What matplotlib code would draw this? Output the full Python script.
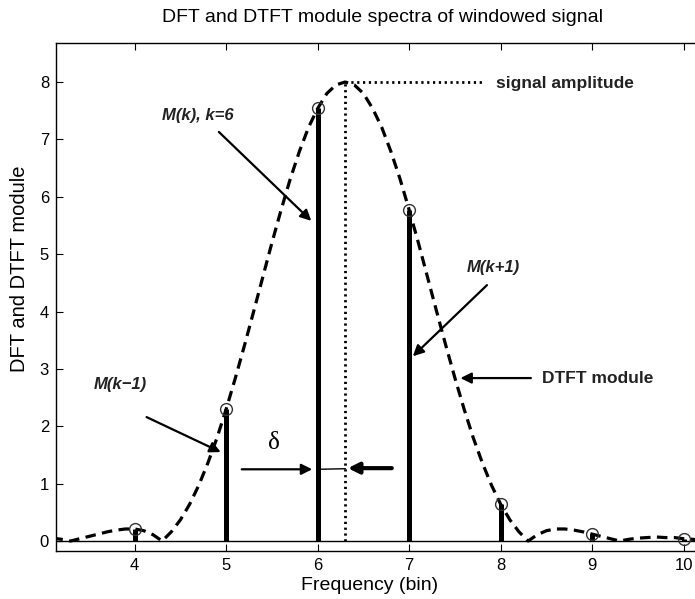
import matplotlib
matplotlib.use("Agg")
import matplotlib.pyplot as plt

plt.rcParams['font.family'] = ['Liberation Sans', 'DejaVu Sans']

# DFT bins and module values
bins = [4, 5, 6, 7, 8, 9, 10]
dft_mod = [0.21, 2.30, 7.54, 5.77, 0.64, 0.12, 0.04]

# DTFT module curve (sampled read-off points)
dtft_x = [3.1, 3.2, 3.3, 3.4, 3.5, 3.6, 3.7, 3.8, 3.9, 4.0, 4.1, 4.2, 4.3, 4.4, 4.5,
          4.6, 4.7, 4.8, 4.9, 5.0, 5.1, 5.2, 5.3, 5.4, 5.5, 5.6, 5.7, 5.8, 5.9, 6.0,
          6.1, 6.2, 6.3, 6.4, 6.5, 6.6, 6.7, 6.8, 6.9, 7.0, 7.1, 7.2, 7.3, 7.4, 7.5,
          7.6, 7.7, 7.8, 7.9, 8.0, 8.1, 8.2, 8.3, 8.4, 8.5, 8.6, 8.7, 8.8, 8.9, 9.0,
          9.1, 9.2, 9.3, 9.4, 9.5, 9.6, 9.7, 9.8, 9.9, 10.0, 10.1, 10.2, 10.3, 10.4, 10.5]
dtft_y = [0.05, 0.03, 0.00, 0.04, 0.08, 0.12, 0.16, 0.19, 0.21, 0.21, 0.18, 0.11, 0.00,
          0.16, 0.37, 0.64, 0.97, 1.36, 1.80, 2.30, 2.84, 3.41, 4.00, 4.60, 5.20, 5.77,
          6.31, 6.79, 7.21, 7.54, 7.80, 7.95, 8.00, 7.95, 7.80, 7.54, 7.21, 6.79, 6.31,
          5.77, 5.20, 4.60, 4.00, 3.41, 2.84, 2.30, 1.80, 1.36, 0.97, 0.64, 0.37, 0.16,
          0.00, 0.11, 0.18, 0.21, 0.21, 0.19, 0.16, 0.12, 0.08, 0.04, 0.00, 0.03, 0.05,
          0.06, 0.07, 0.06, 0.06, 0.04, 0.03, 0.01, 0.00, 0.01, 0.02]

peak_freq = 6.3
signal_amp = 8.0

W, H = 695, 599
fig = plt.figure(figsize=(W / 100, H / 100), dpi=100)
# axes in pixel geometry: left 56, right beyond image, top 43, bottom 551
xlo, xhi = 3.14, 10.3
ylo, yhi = -0.174, 8.68
ppb = 91.5
ax_w = (xhi - xlo) * ppb
ax = fig.add_axes([56 / W, 1 - 551 / H, ax_w / W, (551 - 43) / H])
ax.set_xlim(xlo, xhi)
ax.set_ylim(ylo, yhi)

# baseline
ax.axhline(0, color='black', lw=1.0, zorder=2)

# DTFT dashed curve
ax.plot(dtft_x, dtft_y, color='black', lw=2.3, linestyle=(0, (3.3, 2.0)), zorder=3)

# stems
ax.vlines(bins, 0, dft_mod, color='black', lw=3.6, zorder=4)
ax.plot(bins, dft_mod, 'o', mfc='none', mec='#333333', ms=8.5, mew=1.0, zorder=5)

# dotted lines for signal amplitude / frequency
ax.plot([peak_freq, peak_freq], [0, signal_amp], color='black', lw=2.0,
        linestyle=(0, (0.8, 1.3)), zorder=3)
ax.plot([peak_freq, 7.8], [signal_amp, signal_amp], color='black', lw=2.0,
        linestyle=(0, (0.8, 1.3)), zorder=3)

# annotations
bi = dict(fontsize=12, fontweight='bold', fontstyle='italic', color='#222222')
bo = dict(fontsize=12.5, fontweight='bold', color='#222222')
ap = dict(arrowstyle='-|>', color='black', lw=1.6, mutation_scale=16,
          shrinkA=0, shrinkB=0)

ax.text(7.95, 7.97, 'signal amplitude', ha='left', va='center', **bo)

ax.text(4.3, 7.42, 'M(k), k=6', ha='left', va='center', **bi)
ax.annotate('', xy=(5.93, 5.58), xytext=(4.92, 7.13), arrowprops=ap)

ax.text(3.55, 2.72, 'M(k\u22121)', ha='left', va='center', **bi)
ax.annotate('', xy=(4.94, 1.55), xytext=(4.13, 2.16), arrowprops=ap)

ax.text(7.63, 4.76, 'M(k+1)', ha='left', va='center', **bi)
ax.annotate('', xy=(7.04, 3.22), xytext=(7.85, 4.46), arrowprops=ap)

ax.text(8.45, 2.84, 'DTFT module', ha='left', va='center', **bo)
ax.annotate('', xy=(7.56, 2.84), xytext=(8.33, 2.84), arrowprops=ap)

# delta
ax.text(5.52, 1.71, '\u03b4', ha='center', va='center', fontsize=18,
        family=['Liberation Serif', 'DejaVu Serif'])
ax.annotate('', xy=(5.94, 1.25), xytext=(5.17, 1.25), arrowprops=ap)
ax.plot([6.0, 6.3], [1.25, 1.26], color='black', lw=1.0, zorder=4)
ap2 = dict(ap, lw=3.0)
ax.annotate('', xy=(6.33, 1.27), xytext=(6.81, 1.27), arrowprops=ap2)

# ticks
ax.set_xticks(bins)
ax.set_yticks(range(0, 9))
ax.tick_params(direction='in', length=5, width=0.8, labelsize=12,
               top=True, right=True, pad=5)
for s in ax.spines.values():
    s.set_linewidth(1.0)

ax.set_xlabel('Frequency (bin)', fontsize=14)
ax.set_ylabel('DFT and DTFT module', fontsize=14.5)
ax.xaxis.set_label_coords((370 - 56) / ax_w, -(585 - 551) / 508)
ax.yaxis.set_label_coords(-(56 - 20) / ax_w, (551 - 269) / 508)
ax.xaxis.label.set_va('center')
ax.yaxis.label.set_va('center')
fig.text(383 / W, 1 - 18 / H, 'DFT and DTFT module spectra of windowed signal',
         ha='center', va='center', fontsize=14)

fig.savefig('out.png', dpi=100)
